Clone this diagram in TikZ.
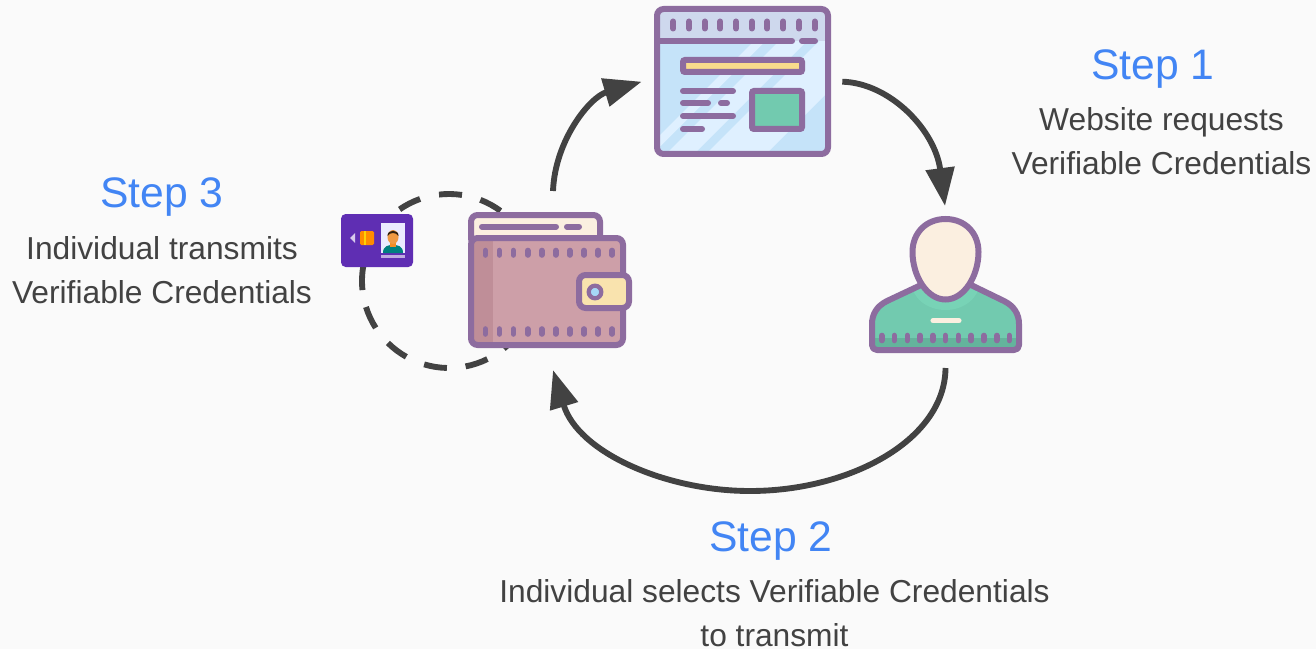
\documentclass[tikz,border=0pt]{standalone}
\usepackage{fontspec}
\setmainfont{Liberation Sans}
\usetikzlibrary{arrows.meta}
\definecolor{bgc}{HTML}{FAFAFA}
\definecolor{ic}{HTML}{8D6C9F}
\definecolor{dk}{HTML}{424242}
\definecolor{stepc}{HTML}{4285F4}
\definecolor{skyd}{HTML}{C5E3F9}
\definecolor{skyl}{HTML}{DFF0FF}
\definecolor{hdr}{HTML}{CED8ED}
\definecolor{yel}{HTML}{F9DC8C}
\definecolor{grn}{HTML}{72CAAF}
\definecolor{grnl}{HTML}{78D3B6}
\definecolor{grnd}{HTML}{64B49C}
\definecolor{cream}{HTML}{FBEFE0}
\definecolor{wal}{HTML}{CD9FA8}
\definecolor{wald}{HTML}{BF8E98}
\definecolor{clasp}{HTML}{F9E3AE}
\definecolor{btn}{HTML}{A6D8F7}
\definecolor{cardc}{HTML}{5F2EB3}
\tikzset{
  x=0.75pt,y=-0.75pt,
  icline/.style={draw=ic,line width=4.5pt,line cap=round},
  icbox/.style={draw=ic,line width=4.5pt,rounded corners=5pt},
  flow/.style={draw=dk,line width=4.4pt,-{Triangle[length=28.5pt,width=21pt]}},
  dashseg/.style={draw=dk,line width=4.4pt},
  steptitle/.style={text=stepc,font=\fontsize{32}{36}\selectfont,inner sep=0pt},
  stepbody/.style={text=dk,font=\fontsize{23.8}{33}\selectfont,align=center,inner sep=0pt},
}
\begin{document}
\begin{tikzpicture}
\path[use as bounding box,fill=bgc] (0,0) rectangle (1316,649);

% dashed circle, behind the wallet and the card
\coordinate (C) at (449,281);
\foreach \a/\b in {53.7/68.9,81.4/96.6,109.4/124.6,137.4/152.6,165/186,197.4/212.6,225.4/240.6,253.4/268.6,281/296.2,309/324.2}
  \draw[dashseg] ([shift={(-\a:87)}]C) arc[start angle=-\a,end angle=-\b,radius=87];

% browser
\begin{scope}
  \clip[rounded corners=5pt] (657,9) rectangle (828,154);
  \fill[skyd] (657,9) rectangle (828,154);
  \foreach \p/\q in {795/806.6,820/848,860/920}
    \fill[skyl] (\p-40,40) -- (\q-40,40) -- (\q-156,156) -- (\p-156,156) -- cycle;
  \fill[hdr] (657,9) rectangle (828,41);
\end{scope}
\node[icbox,inner sep=0pt,minimum width=128.25pt,minimum height=108.75pt] (browser) at (742.5,81.5) {};
\coordinate (hl) at (657,41); \coordinate (hm) at (792,41);
\draw[icline] (hl) -- (hm);
\draw[icline] (802,41) -- (815,41);
\foreach \x in {673.3,689,704.7,720.3,736,751.7,767.3,783.3,799,814.7}
  \draw[icline] (\x,21.5) -- (\x,28.5);
\draw[draw=ic,fill=yel,line width=4.5pt,rounded corners=1.5pt] (683,60) rectangle (802,72);
\draw[icline] (683,91) -- (733,91);
\draw[icline] (683,103) -- (708,103);
\draw[icline] (721,103) -- (727,103);
\draw[icline] (683,116) -- (733,116);
\draw[icline] (683,129) -- (702,129);
\draw[draw=ic,fill=grn,line width=4.5pt,rounded corners=1.5pt] (752,91) rectangle (802,129);

% person
\begin{scope}
  \path[save path=\bodypath] (921,285) -- (887,301) .. controls (877,306) and (872,314) .. (872,324)
     -- (872,345) .. controls (872,348) and (874,350) .. (877,350) -- (1014,350)
     .. controls (1017,350) and (1019,348) .. (1019,345) -- (1019,324)
     .. controls (1019,314) and (1014,306) .. (1004,301) -- (971,285) -- cycle;
  \begin{scope}
    \clip[use path=\bodypath];
    \fill[grn] (860,270) rectangle (1030,360);
    \fill[grnl] (945.5,282) ellipse [x radius=34,y radius=28];
    \fill[grnd] (860,338) rectangle (1030,360);
  \end{scope}
  \draw[draw=ic,line width=4.5pt,line join=round,use path=\bodypath];
\end{scope}
\draw[draw=ic,fill=cream,line width=4.5pt]
  (945.5,219) .. controls (965,219) and (978.5,233) .. (978.5,252)
  .. controls (978.5,276) and (964,299.5) .. (945.5,299.5)
  .. controls (927,299.5) and (912.5,276) .. (912.5,252)
  .. controls (912.5,233) and (926,219) .. (945.5,219) -- cycle;
\node[inner sep=0pt,minimum size=1pt] (person) at (945.5,285) {};
\foreach \x in {881.7,894.3,907.3,920,932.7,945.3,958.3,971,983.7,996.7,1009.3}
  \draw[icline,line width=4.2pt] (\x,335.5) -- (\x,340.5);
\draw[draw=cream,line width=3.8pt,line cap=round] (933,320.7) -- (959,320.7);

% wallet
\draw[icbox,fill=cream] (471,215) rectangle (600,245);
\draw[icline] (482,226.7) -- (556,226.7);
\draw[icline] (567,226.7) -- (579,226.7);
\begin{scope}
  \clip[rounded corners=5pt] (471,238) rectangle (623,345);
  \fill[wal] (471,238) rectangle (623,345);
  \fill[wald] (471,238) rectangle (493,345);
\end{scope}
\node[icbox,inner sep=0pt,minimum width=114pt,minimum height=80.25pt] (wallet) at (547,291.5) {};
\foreach \x in {485.3,499.3,513.3,527.7,541.7,555.7,569.7,584,598,612} {
  \draw[icline,line width=4.2pt] (\x,250.5) -- (\x,255);
  \draw[icline,line width=4.2pt] (\x,329) -- (\x,334);
}
\draw[icbox,fill=clasp] (579,275) rectangle (629,308);
\draw[draw=ic,fill=btn,line width=3.2pt] (595,292) circle [radius=6.3];

% card
\node[fill=cardc,rounded corners=3.5pt,inner sep=0pt,minimum width=54pt,minimum height=39.75pt] (card) at (377,240.5) {};
\fill[white!75!cardc] (355,233) -- (355,243) -- (350,238) -- cycle;
\fill[orange!90!yellow,rounded corners=1pt] (360,231) rectangle (374,245);
\fill[yellow!70!orange] (364,231) rectangle (366,245);
\fill[blue!8!white] (381,223) rectangle (405,253);
\begin{scope}
  \clip (381,223) rectangle (405,253);
  \fill[teal] (383,253) .. controls (383,246) and (388,245) .. (393,245) .. controls (398,245) and (403,246) .. (403,253) -- cycle;
  \fill[orange!80!brown!90!white] (390,240) rectangle (396,247);
  \fill[orange!70!brown!80!white] (393,237) ellipse [x radius=5.5,y radius=7];
  \fill[black!75!brown] (387.5,236) .. controls (387,229) and (399,229) .. (398.5,236) .. controls (396,232) and (390,232) .. (387.5,236) -- cycle;
\end{scope}
\fill[white!60!cardc] (381,255) rectangle (405,258);

% flow connectors
\coordinate (s1) at (553,191); \coordinate (t1) at (641.7,81.7);
\coordinate (s2) at (842.3,81.7); \coordinate (t2) at (945,206);
\coordinate (s3) at (945.5,368); \coordinate (m3) at (750,491); \coordinate (t3) at (553,370);
\draw[flow] (s1) .. controls (555,140) and (590,97) .. (t1);
\draw[flow] (s2) .. controls (890,83) and (935,130) .. (t2);
\draw[flow] (s3) .. controls (945,440) and (850,491) .. (m3) .. controls (665,491) and (578,452) .. (t3);

% text
\node[steptitle] (st1) at (1153,69) {Step 1};
\node[stepbody] (bd1) at (1161.5,141.5) {Website requests\\Verifiable Credentials};
\node[steptitle] (st2) at (771,541) {Step 2};
\node[stepbody] (bd2) at (774.5,613) {Individual selects Verifiable Credentials\\to transmit};
\node[steptitle] (st3) at (162,197) {Step 3};
\node[stepbody] (bd3) at (162,270) {Individual transmits\\Verifiable Credentials};
\end{tikzpicture}
\end{document}
